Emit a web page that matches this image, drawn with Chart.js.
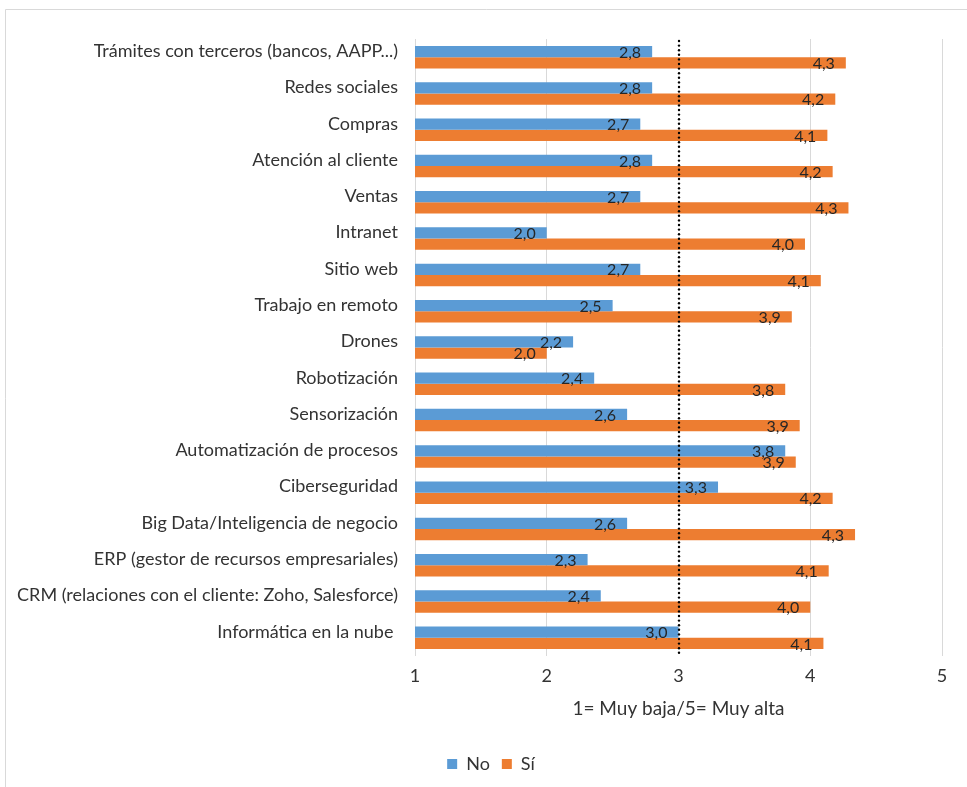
<!DOCTYPE html>
<html>
<head>
<meta charset="utf-8">
<script src="https://cdn.jsdelivr.net/npm/chart.js@4"></script>
<style>
  html, body { margin: 0; padding: 0; background: #fff; }
  #wrap { width: 967px; height: 787px; position: relative; }
</style>
</head>
<body>
<div id="wrap"><canvas id="chart" width="967" height="787"></canvas></div>
<script>
// Categories (top to bottom)
const categories = [
  "Trámites con terceros (bancos, AAPP...)",
  "Redes sociales",
  "Compras",
  "Atención al cliente",
  "Ventas",
  "Intranet",
  "Sitio web",
  "Trabajo en remoto",
  "Drones",
  "Robotización",
  "Sensorización",
  "Automatización de procesos",
  "Ciberseguridad",
  "Big Data/Inteligencia de negocio",
  "ERP (gestor de recursos empresariales)",
  "CRM (relaciones con el cliente: Zoho, Salesforce)",
  "Informática en la nube "
];

// Average rating by group
const valuesNo = [2.80, 2.80, 2.71, 2.80, 2.71, 2.00, 2.71, 2.50, 2.20, 2.36, 2.61, 3.81, 3.30, 2.61, 2.31, 2.41, 3.00];
const valuesSi = [4.27, 4.19, 4.13, 4.17, 4.29, 3.96, 4.08, 3.86, 2.00, 3.81, 3.92, 3.89, 4.17, 4.34, 4.14, 4.00, 4.10];

const seriesNames = ["No", "Sí"];
const xTicks = [1, 2, 3, 4, 5];
const xTitle = "1= Muy baja/5= Muy alta";
const referenceValue = 3;

const FONT = "Lato, 'Open Sans', sans-serif";
const TEXT = "#333333";

// Outer frame (left and top edges)
const framePlugin = {
  id: "frame",
  beforeDraw(chart) {
    const ctx = chart.ctx;
    ctx.save();
    ctx.fillStyle = "#ffffff";
    ctx.fillRect(0, 0, chart.width, chart.height);
    ctx.strokeStyle = "#d9d9d9";
    ctx.lineWidth = 1;
    ctx.beginPath();
    ctx.moveTo(5.5, chart.height);
    ctx.lineTo(5.5, 9.5);
    ctx.lineTo(chart.width, 9.5);
    ctx.stroke();
    ctx.restore();
  }
};

// Nudge the legend box below the axis title
const legendShiftPlugin = {
  id: "legendShift",
  afterLayout(chart) {
    const lg = chart.legend;
    if (!lg) return;
    lg.left += 20; lg.right += 20;
    lg.top += 17; lg.bottom += 17;
  }
};

// Dotted reference line and value labels
const overlayPlugin = {
  id: "overlay",
  afterDatasetsDraw(chart) {
    const ctx = chart.ctx;
    const area = chart.chartArea;
    const xs = chart.scales.x;
    const px = Math.round(xs.getPixelForValue(referenceValue));
    ctx.save();
    ctx.fillStyle = "#000000";
    for (let y = area.top + 2; y <= area.bottom; y += 4.6) {
      ctx.beginPath();
      ctx.arc(px, y, 1.2, 0, Math.PI * 2);
      ctx.fill();
    }
    ctx.font = "16px " + FONT;
    ctx.fillStyle = "#262626";
    ctx.textAlign = "right";
    ctx.textBaseline = "middle";
    chart.data.datasets.forEach((ds, i) => {
      const meta = chart.getDatasetMeta(i);
      meta.data.forEach((bar, j) => {
        const txt = ds.data[j].toFixed(1).replace(".", ",");
        ctx.fillText(txt, bar.x - 11, bar.y + 1);
      });
    });
    ctx.restore();
  }
};

new Chart(document.getElementById("chart"), {
  type: "bar",
  data: {
    labels: categories,
    datasets: [
      { label: seriesNames[0], data: valuesNo, backgroundColor: "#5b9bd5", borderWidth: 0 },
      { label: seriesNames[1], data: valuesSi, backgroundColor: "#ed7d31", borderWidth: 0 }
    ]
  },
  options: {
    indexAxis: "y",
    responsive: false,
    animation: false,
    devicePixelRatio: 1,
    categoryPercentage: 0.62,
    barPercentage: 1.0,
    layout: { padding: { left: 0, right: 25, top: 39, bottom: 21 } },
    scales: {
      x: {
        min: 1,
        max: 5,
        afterBuildTicks(scale) { scale.ticks = xTicks.map(v => ({ value: v })); },
        afterFit(scale) { scale.height = 70; },
        grid: {
          color: ctx => (ctx.tick && ctx.tick.value === referenceValue) ? "rgba(0,0,0,0)" : "#d9d9d9",
          lineWidth: 1,
          drawTicks: false
        },
        border: { display: false },
        ticks: {
          color: TEXT,
          font: { family: FONT, size: 18 },
          padding: 9
        },
        title: {
          display: true,
          text: xTitle,
          color: TEXT,
          font: { family: FONT, size: 19 },
          padding: { top: 4, bottom: 6 }
        }
      },
      y: {
        afterFit(scale) { scale.width = 415; },
        grid: { display: false, drawTicks: false },
        border: { display: false },
        ticks: {
          color: TEXT,
          font: { family: FONT, size: 18 },
          padding: 17,
          labelOffset: -6,
          autoSkip: false
        }
      }
    },
    plugins: {
      legend: {
        position: "bottom",
        labels: {
          color: TEXT,
          font: { family: FONT, size: 18 },
          boxWidth: 10,
          boxHeight: 10,
          padding: 12
        }
      },
      tooltip: { enabled: false }
    }
  },
  plugins: [framePlugin, legendShiftPlugin, overlayPlugin]
});
</script>
</body>
</html>
